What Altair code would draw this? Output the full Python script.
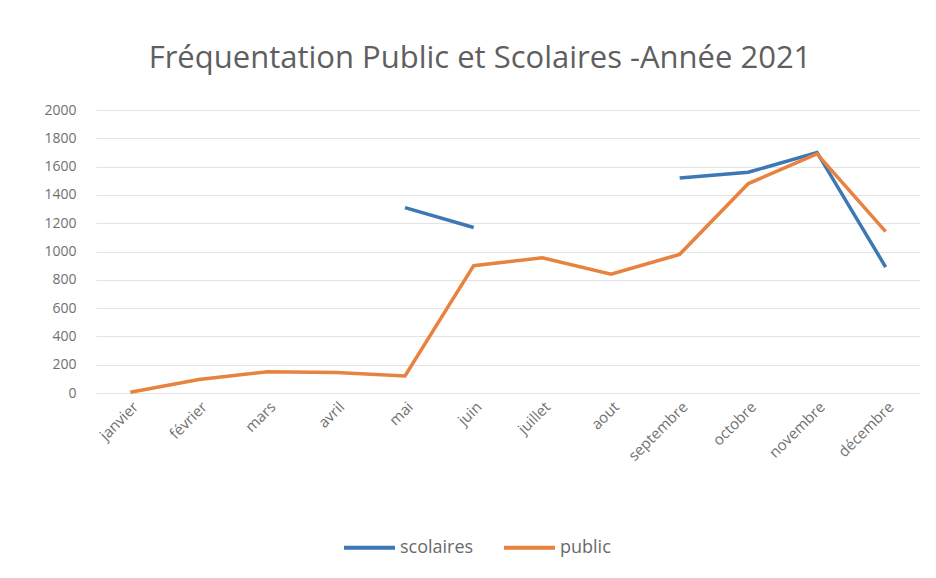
import altair as alt
import pandas as pd

months = ["janvier", "février", "mars", "avril", "mai", "juin", "juillet",
          "aout", "septembre", "octobre", "novembre", "décembre"]
scolaires = [None, None, None, None, 1310, 1170, None, None, 1520, 1560, 1700, 890]
public = [5, 95, 150, 145, 120, 900, 955, 840, 980, 1480, 1690, 1140]
series_names = ["scolaires", "public"]
colors = ["#3C78B4", "#E8823F"]

rows = []
for name, vals in zip(series_names, [scolaires, public]):
    for m, v in zip(months, vals):
        rows.append({"mois": m, "valeur": v, "serie": name})
df = pd.DataFrame(rows)

chart = alt.Chart(df).mark_line(
    strokeWidth=3.5, invalid="break-paths-show-domains"
).encode(
    x=alt.X("mois:N", sort=months, title=None,
            scale=alt.Scale(type="point", padding=0.5),
            axis=alt.Axis(labelAngle=-45, labelFontSize=15, labelColor="#707070",
                          labelFont="Open Sans", ticks=False, domain=False,
                          labelPadding=6, grid=False)),
    y=alt.Y("valeur:Q", title=None,
            scale=alt.Scale(domain=[0, 2000]),
            axis=alt.Axis(values=list(range(0, 2001, 200)), format="d",
                          labelFontSize=14,
                          labelColor="#707070", labelFont="Open Sans",
                          ticks=False, domain=False, labelPadding=20,
                          gridColor="#e3e3e3", gridWidth=1)),
    color=alt.Color("serie:N", scale=alt.Scale(domain=series_names, range=colors),
                    title=None,
                    legend=alt.Legend(orient="none", legendX=246, legendY=410,
                                      direction="horizontal", symbolType="stroke",
                                      symbolSize=2600, symbolStrokeWidth=4,
                                      labelFontSize=18, labelColor="#6a6a6a",
                                      labelFont="Open Sans", columnPadding=22,
                                      labelOffset=3)),
).properties(
    width=824, height=283,
    title=alt.Title("Fréquentation Public et Scolaires -Année 2021",
                    fontSize=31, font="Open Sans", fontWeight="normal",
                    color="#5f5f5f", anchor="middle", dx=-28, offset=28),
    autosize=alt.AutoSizeParams(type="none"),
    padding={"left": 88, "top": 102, "right": 8, "bottom": 177},
).configure_view(stroke=None)

chart.save("out.html", embed_options={"renderer": "svg", "actions": False})
